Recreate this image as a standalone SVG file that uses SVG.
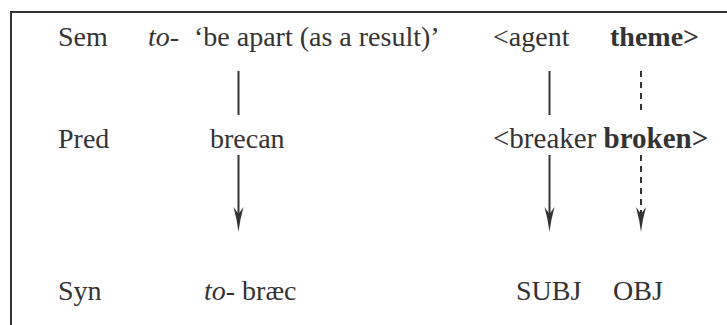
<svg xmlns="http://www.w3.org/2000/svg" width="727" height="325" viewBox="0 0 727 325">
  <defs>
    <style type="text/css">
      text { font-family: "Liberation Serif", "Times New Roman", serif; font-size: 28px; fill: #333; }
      .it { font-style: italic; }
      .b { font-weight: bold; }
      .frame { fill: none; stroke: #333; stroke-width: 2; }
      .link { stroke: #333; stroke-width: 2; fill: none; }
      .dash { stroke-dasharray: 6 5; }
    </style>
    <marker id="barb" markerUnits="userSpaceOnUse" markerWidth="26" markerHeight="12" refX="7" refY="6" orient="auto">
      <path d="M25,6 Q13,4.6 0,1 L7,6 L0,11 Q13,7.4 25,6 Z" fill="#333"/>
    </marker>
  </defs>

  <!-- open frame: left and top edges -->
  <path class="frame" d="M11,326 V12 H728"/>

  <!-- row labels -->
  <g id="label-sem"><text x="58" y="46">Sem</text></g>
  <g id="label-pred"><text x="58" y="148">Pred</text></g>
  <g id="label-syn"><text x="58" y="300">Syn</text></g>

  <!-- semantic level -->
  <g id="sem-meaning">
    <text x="148" y="46" class="it">to-</text>
    <text x="194" y="46">‘be apart (as a result)’</text>
  </g>
  <g id="sem-agent"><text x="493" y="46">&lt;agent</text></g>
  <g id="sem-theme"><text x="610" y="46" class="b">theme&gt;</text></g>

  <!-- predicate level -->
  <g id="pred-verb"><text x="210" y="148">brecan</text></g>
  <g id="pred-args">
    <text x="493" y="148" style="font-size:29px">&lt;breaker <tspan class="b">broken&gt;</tspan></text>
  </g>

  <!-- syntactic level -->
  <g id="syn-verb">
    <text x="204" y="300"><tspan class="it">to-</tspan> bræc</text>
  </g>
  <g id="syn-subj"><text x="516" y="300">SUBJ</text></g>
  <g id="syn-obj"><text x="613" y="300">OBJ</text></g>

  <!-- mappings between levels -->
  <g id="connectors">
    <line class="link" x1="238.5" y1="71" x2="238.5" y2="115"/>
    <line class="link" x1="549.5" y1="71" x2="549.5" y2="115"/>
    <line class="link dash" x1="641" y1="71" x2="641" y2="115"/>

    <line class="link" x1="238.5" y1="155" x2="238.5" y2="214" marker-end="url(#barb)"/>
    <line class="link" x1="549.5" y1="155" x2="549.5" y2="214" marker-end="url(#barb)"/>
    <line class="link dash" x1="641" y1="155" x2="641" y2="214" marker-end="url(#barb)"/>
  </g>
</svg>
